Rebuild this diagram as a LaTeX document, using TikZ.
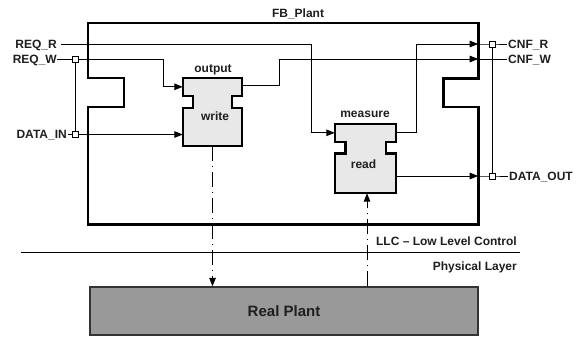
\documentclass[tikz,border=0pt]{standalone}
\usepackage{fontspec}
\setmainfont{Liberation Sans}
\usetikzlibrary{arrows.meta,calc}
\definecolor{txt}{HTML}{1E1E1E}
\definecolor{boxfill}{HTML}{E8E8E8}
\definecolor{plantfill}{HTML}{999999}
\definecolor{plantedge}{HTML}{333333}
\newcommand\notchedbox[4]{% name, notch top offset, notch height, notch depth
  \draw[thickbox, fill=boxfill] (#1.north west) -- (#1.north east)
    -- ($(#1.north east)+(0,#2)$) -- ++(-#4,0) -- ++(0,#3) -- ++(#4,0)
    -- (#1.south east) -- (#1.south west)
    -- ($(#1.north west)+(0,#2+#3)$) -- ++(#4,0) -- ++(0,-#3) -- ++(-#4,0) -- cycle;}
\begin{document}
\begin{tikzpicture}[x=1pt,y=-1pt,
  lbl/.style={font=\fontsize{12}{14}\selectfont\bfseries, text=txt, inner sep=0pt, text height=8.6pt, text depth=0pt},
  conn/.style={line width=1pt, draw=black},
  arr/.style={conn, -{Triangle[length=8.5pt,width=6.5pt]}},
  thickbox/.style={line width=2.4pt, line join=miter, draw=black},
  port/.style={draw=black, fill=white, line width=0.9pt, minimum size=6pt, inner sep=0pt},
  dd/.style={line width=1pt, dash pattern=on 15pt off 5pt on 1pt off 5pt, -{Triangle[length=8.5pt,width=6.5pt]}},
  area/.style={inner sep=0pt, minimum width=#1},
]
\useasboundingbox (0,0) rectangle (585,338);

% FB_Plant frame
\node[area=390pt, minimum height=201pt] (fb) at (283,123.5) {};
\draw[thickbox, line width=2.6pt] (fb.north west) -- (fb.north east) -- ($(fb.north east)+(0,55.5)$) -- ++(-35,0) -- ++(0,28.5) -- ++(35,0)
  -- (fb.south east) -- (fb.south west) -- ($(fb.north west)+(0,84)$) -- ++(36,0) -- ++(0,-29) -- ++(-36,0) -- cycle;
\node[lbl, anchor=base] (fbt) at (298,17) {FB\_Plant};

% function blocks
\node[area=59pt, minimum height=68pt] (out) at (212.5,112) {};
\notchedbox{out}{18}{12}{10}
\node[lbl, anchor=base] (outt) at (213,72) {output};
\node[lbl, anchor=base] (outw) at (215,120) {write};

\node[area=61pt, minimum height=69pt] (meas) at (365.5,158.5) {};
\notchedbox{meas}{18}{11.5}{10.5}
\node[lbl, anchor=base] (meast) at (365,117.5) {measure};
\node[lbl, anchor=base] (measr) at (363.5,168.7) {read};

% port coordinates
\coordinate (outIn) at ($(out.north west)+(0,9)$);
\coordinate (outOut) at ($(out.north east)+(0,8)$);
\coordinate (measIn) at ($(meas.north west)+(0,9)$);
\coordinate (measOut) at ($(meas.north east)+(0,9)$);

% labels
\node[lbl, anchor=east] (lreqr) at (57,44) {REQ\_R};
\node[lbl, anchor=east] (lreqw) at (57,59) {REQ\_W};
\node[lbl, anchor=east] (ldin) at (67,134.5) {DATA\_IN};
\node[lbl, anchor=west] (lcnfr) at (508,44) {CNF\_R};
\node[lbl, anchor=west] (lcnfw) at (508,59) {CNF\_W};
\node[lbl, anchor=west] (ldout) at (509,176) {DATA\_OUT};

% port squares (positions)
\coordinate (pw) at (75,59);
\coordinate (pd) at (75,134.5);
\coordinate (pr) at (492,44);
\coordinate (po) at (492,176);

% input connectors
\draw[arr] ($(lreqr.east)+(4,0)$) -| ($(measIn)+(-23,0)$) -- (measIn);
\draw[conn] (lreqw.east) -- (pw);
\draw[arr] (pw) -| ($(outIn)+(-19,0)$) -- (outIn);
\draw[conn] ($(ldin.east)+(1,0)$) -- (pd);
\draw[arr] (pd) -- (pd -| out.west);
\draw[conn] (pw) -- (pd);

% output connectors
\coordinate (fbR) at (fb.east |- pr);
\coordinate (fbW) at (fb.east |- lcnfw);
\coordinate (fbO) at (fb.east |- po);
\draw[arr] (measOut) -- ++(20,0) |- (fbR);
\draw[conn] (fbR) -- (pr) -- ($(lcnfr.west)+(-1,0)$);
\draw[arr] (outOut) -- ++(37,0) |- (fbW);
\draw[conn] (fbW) -- ($(lcnfw.west)+(-1,0)$);
\draw[arr] (meas.east |- po) -- (fbO);
\draw[conn] (fbO) -- (po) -- ($(ldout.west)+(-1,0)$);
\draw[conn] (pr) -- (po);

% squares on top
\node[port] (sqw) at (pw) {};
\node[port] (sqd) at (pd) {};
\node[port] (sqr) at (pr) {};
\node[port] (sqo) at (po) {};

% layers
\coordinate (hl) at (21,252);
\coordinate (hr) at (520,252);
\draw[line width=1pt] (hl) -- (hr);
\node[lbl, anchor=base east] (llc) at (517,245.7) {LLC – Low Level Control};
\node[lbl, anchor=base east] (phy) at (517,270) {Physical Layer};

% real plant
\node[draw=plantedge, line width=1.2pt, fill=plantfill, minimum width=388pt, minimum height=48pt, inner sep=0pt,
      font=\fontsize{15}{17}\selectfont\bfseries, text=txt] (real) at (284,311) {Real Plant};

% dash-dot links
\draw[dd] (out.south) -- (out.south |- real.north);
\draw[dd] ($(real.north -| meas.south)+(1.5,0)$) -- ($(meas.south)+(1.5,0)$);
\end{tikzpicture}
\end{document}
